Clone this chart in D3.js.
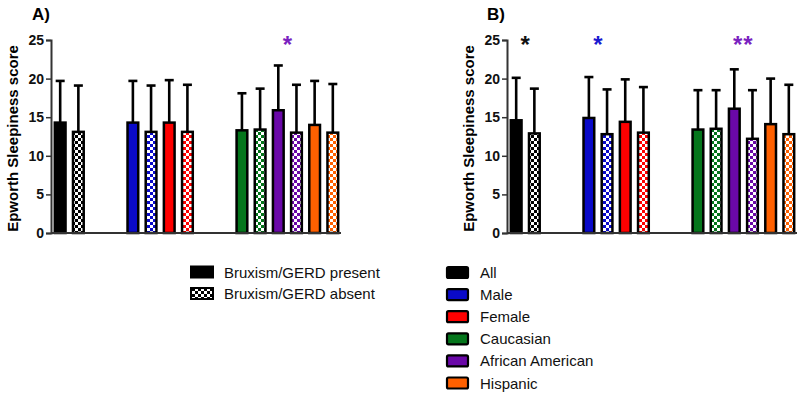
<!DOCTYPE html>
<html>
<head>
<meta charset="utf-8">
<script src="https://cdn.jsdelivr.net/npm/d3@7/dist/d3.min.js"></script>
<style>
  html, body { margin: 0; padding: 0; background: #fff; }
  svg { display: block; font-family: "Liberation Sans", Arial, sans-serif; }
</style>
</head>
<body>
<svg id="chart" width="797" height="400"></svg>
<script>
// ---------------- data ----------------
const groups = ["All", "Male", "Female", "Caucasian", "African American", "Hispanic"];
const sections = [["All"], ["Male", "Female"], ["Caucasian", "African American", "Hispanic"]];
const groupColors = ["#000000", "#0a0ac8", "#ff0000", "#05761c", "#6a08a8", "#ff6000"];
const starColors = ["#111111", "#1a1ad0", "#ff0000", "#05761c", "#7a22c0", "#ff6000"];
const yTicks = [0, 5, 10, 15, 20, 25];

// Panel A
const aPresentMean = [14.3, 14.3, 14.3, 13.3, 15.9, 14.0];
const aPresentSD   = [5.4, 5.4, 5.5, 4.8, 5.8, 5.7];
const aAbsentMean  = [13.1, 13.1, 13.1, 13.4, 13.0, 13.0];
const aAbsentSD    = [6.0, 6.0, 6.1, 5.3, 6.2, 6.3];
const aStars = [{ group: "African American", text: "*" }];

// Panel B
const bPresentMean = [14.6, 14.9, 14.4, 13.4, 16.1, 14.1];
const bPresentSD   = [5.5, 5.3, 5.5, 5.1, 5.1, 5.9];
const bAbsentMean  = [12.9, 12.8, 13.0, 13.5, 12.2, 12.8];
const bAbsentSD    = [5.8, 5.8, 5.9, 5.0, 6.3, 6.4];
const bStars = [{ group: "All", text: "*" }, { group: "Male", text: "*" }, { group: "African American", text: "**" }];

const legendA = ["Bruxism/GERD present", "Bruxism/GERD absent"];
const yLabel = "Epworth Sleepiness score";

// ---------------- drawing ----------------
const svg = d3.select("#chart");
const defs = svg.append("defs");

// checker patterns
groups.forEach((g, i) => {
  const p = defs.append("pattern")
    .attr("id", "chk" + i).attr("patternUnits", "userSpaceOnUse")
    .attr("width", 6).attr("height", 6);
  p.append("rect").attr("width", 6).attr("height", 6).attr("fill", "#fff");
  p.append("rect").attr("width", 3).attr("height", 3).attr("fill", groupColors[i]);
  p.append("rect").attr("x", 3).attr("y", 3).attr("width", 3).attr("height", 3).attr("fill", groupColors[i]);
});

// slot domain with two-slot gaps between sections
const slotDomain = [];
sections.forEach((sec, si) => {
  if (si > 0) { slotDomain.push("gap" + si + "a", "gap" + si + "b"); }
  sec.forEach(g => { slotDomain.push(g + "|present"); slotDomain.push(g + "|absent"); });
});

const plotTop = 40, plotBottom = 233;
const y = d3.scaleLinear().domain([0, 25]).range([plotBottom, plotTop]);

function drawPanel(cfg) {
  const g = svg.append("g");
  const x = d3.scaleBand().domain(slotDomain).range([cfg.x0, cfg.x1])
    .paddingInner(0.30).paddingOuter(0.1);

  // title
  g.append("text").attr("x", cfg.titleX).attr("y", 20)
    .attr("font-size", 17).attr("font-weight", "bold").text(cfg.title);

  // y label
  g.append("text")
    .attr("transform", `translate(${cfg.axisX - 33},${(plotTop + plotBottom) / 2 + 2}) rotate(-90)`)
    .attr("text-anchor", "middle").attr("font-size", 15).attr("font-weight", "bold")
    .text(yLabel);

  // bars data
  const bars = [];
  groups.forEach((grp, i) => {
    bars.push({ key: grp + "|present", mean: cfg.pm[i], sd: cfg.ps[i], fill: groupColors[i] });
    bars.push({ key: grp + "|absent", mean: cfg.am[i], sd: cfg.as[i], fill: `url(#chk${i})` });
  });

  // error bars
  const eb = g.append("g").attr("stroke", "#000").attr("stroke-width", 2.6);
  bars.forEach(b => {
    const cx = x(b.key) + x.bandwidth() / 2;
    eb.append("line").attr("x1", cx).attr("x2", cx).attr("y1", y(b.mean)).attr("y2", y(b.mean + b.sd));
    eb.append("line").attr("x1", cx - 4.5).attr("x2", cx + 4.5)
      .attr("y1", y(b.mean + b.sd)).attr("y2", y(b.mean + b.sd));
  });

  // bars
  g.append("g").selectAll("rect").data(bars).join("rect")
    .attr("x", d => x(d.key) + 1).attr("width", x.bandwidth() - 2)
    .attr("y", d => y(d.mean)).attr("height", d => y(0) - y(d.mean))
    .attr("fill", d => d.fill).attr("stroke", "#000").attr("stroke-width", 2.5);

  // axes
  const ax = g.append("g").attr("transform", `translate(${cfg.axisX},0)`)
    .call(d3.axisLeft(y).tickValues(yTicks).tickSize(5).tickPadding(2));
  ax.select(".domain").attr("stroke", "#333").attr("stroke-width", 2);
  ax.selectAll(".tick line").attr("stroke", "#333").attr("stroke-width", 1.5);
  ax.selectAll(".tick text").attr("font-size", 14).attr("font-weight", "bold")
    .attr("font-family", "Liberation Sans, Arial, sans-serif").attr("fill", "#111");
  g.append("line").attr("x1", cfg.axisX).attr("x2", cfg.x1)
    .attr("y1", y(0)).attr("y2", y(0)).attr("stroke", "#333").attr("stroke-width", 2);

  // stars
  cfg.stars.forEach(s => {
    const i = groups.indexOf(s.group);
    const cx = (x(s.group + "|present") + x(s.group + "|absent") + x.bandwidth()) / 2;
    g.append("text").attr("x", cx).attr("y", 53).attr("text-anchor", "middle")
      .attr("font-size", 24).attr("font-weight", "bold").attr("fill", starColors[i])
      .attr("letter-spacing", s.text.length > 1 ? 1 : 0)
      .text(s.text);
  });
}

drawPanel({ title: "A)", titleX: 32, axisX: 51, x0: 52, x1: 341,
  pm: aPresentMean, ps: aPresentSD, am: aAbsentMean, as: aAbsentSD, stars: aStars });
drawPanel({ title: "B)", titleX: 487, axisX: 507, x0: 508, x1: 797,
  pm: bPresentMean, ps: bPresentSD, am: bAbsentMean, as: bAbsentSD, stars: bStars });

// legend A
const la = svg.append("g");
legendA.forEach((t, i) => {
  const yy = 272 + i * 21.5;
  la.append("rect").attr("x", 191).attr("y", yy - 5.5).attr("width", 22).attr("height", 11)
    .attr("fill", i === 0 ? "#000" : "url(#chk0)").attr("stroke", "#000").attr("stroke-width", 2);
  la.append("text").attr("x", 224).attr("y", yy + 5.5).attr("font-size", 15).attr("fill", "#111").text(t);
});

// legend B
const lb = svg.append("g");
groups.forEach((t, i) => {
  const yy = 272.5 + i * 22.1;
  lb.append("rect").attr("x", 447).attr("y", yy - 5.5).attr("width", 21).attr("height", 11)
    .attr("rx", 1.5).attr("fill", groupColors[i]).attr("stroke", "#000").attr("stroke-width", 2.2);
  lb.append("text").attr("x", 480).attr("y", yy + 5.5).attr("font-size", 15).attr("fill", "#111").text(t);
});
</script>
</body>
</html>
